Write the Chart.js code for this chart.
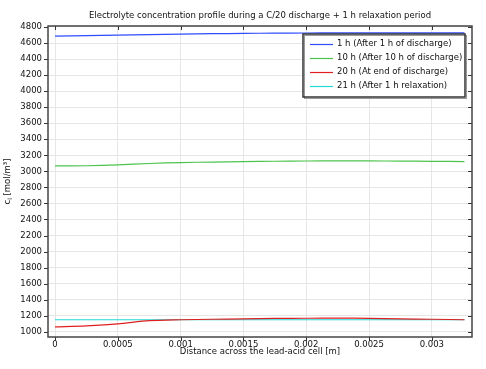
<!DOCTYPE html>
<html>
<head>
<meta charset="utf-8">
<script src="https://cdn.jsdelivr.net/npm/chart.js@4/dist/chart.umd.min.js"></script>
<style>
  html, body { margin: 0; padding: 0; background: #fff; }
  #wrap { width: 486px; height: 369px; }
</style>
</head>
<body>
<div id="wrap"><canvas id="chart" width="486" height="369"></canvas></div>
<script>
// Distance across the cell [m]
const xPos = [0, 0.00025, 0.0005, 0.00075, 0.001, 0.00125, 0.0015, 0.00175, 0.002, 0.00225, 0.0025, 0.00275, 0.003, 0.00326];

// Electrolyte concentration [mol/m^3]
const c1h  = [4685, 4692, 4699, 4705, 4711, 4716, 4720, 4723, 4725, 4726, 4727, 4727, 4727, 4727];
const c10h = [3068, 3070, 3080, 3098, 3110, 3116, 3122, 3126, 3129, 3130, 3130, 3128, 3125, 3122];
const c20h = [1060, 1074, 1098, 1138, 1150, 1156, 1161, 1166, 1169, 1170, 1168, 1162, 1156, 1150];
const c21h = [1150, 1150, 1150, 1150, 1150, 1150, 1150, 1150, 1150, 1150, 1150, 1150, 1150, 1150];

const seriesNames = ['1 h (After 1 h of discharge)', '10 h (After 10 h of discharge)', '20 h (At end of discharge)', '21 h (After 1 h relaxation)'];
const seriesColors = ['#2f4cff', '#4cc44c', '#e02020', '#20d8d8'];

const xTicks = [0, 0.0005, 0.001, 0.0015, 0.002, 0.0025, 0.003];
const yTicks = [1000, 1200, 1400, 1600, 1800, 2000, 2200, 2400, 2600, 2800, 3000, 3200, 3400, 3600, 3800, 4000, 4200, 4400, 4600, 4800];

const titleText = 'Electrolyte concentration profile during a C/20 discharge + 1 h relaxation period';
const xTitle = 'Distance across the lead-acid cell [m]';

const FONT = 'DejaVu Sans';
const FS = 8.5;

function pts(ys) {
  return xPos.map((x, i) => ({ x: x, y: ys[i] }));
}

// frame, tick marks, titles and boxed legend
const framePlugin = {
  id: 'frame',
  afterDatasetsDraw(chart) {
    const { ctx, chartArea: a, scales } = chart;
    ctx.save();
    ctx.strokeStyle = '#333';
    ctx.lineWidth = 1;
    ctx.beginPath();
    xTicks.forEach(v => {
      const px = Math.round(scales.x.getPixelForValue(v)) + 0.5;
      ctx.moveTo(px, a.bottom); ctx.lineTo(px, a.bottom + 4);
      ctx.moveTo(px, a.top); ctx.lineTo(px, a.top + 4);
    });
    yTicks.forEach(v => {
      const py = Math.round(scales.y.getPixelForValue(v)) + 0.5;
      ctx.moveTo(a.left - 4, py); ctx.lineTo(a.left, py);
      ctx.moveTo(a.right - 4, py); ctx.lineTo(a.right, py);
    });
    ctx.stroke();
    ctx.lineWidth = 1.5;
    ctx.strokeStyle = '#444';
    ctx.strokeRect(a.left, a.top, a.right - a.left, a.bottom - a.top);

    // titles
    ctx.fillStyle = '#111';
    ctx.font = FS + 'px ' + FONT;
    ctx.textAlign = 'center';
    ctx.textBaseline = 'middle';
    const cx = (a.left + a.right) / 2;
    ctx.fillText(titleText, cx, 16);
    ctx.fillText(xTitle, cx, 352);

    // y title with subscript
    ctx.save();
    ctx.translate(8, (a.top + a.bottom) / 2);
    ctx.rotate(-Math.PI / 2);
    ctx.textAlign = 'left';
    const rest = ' [mol/m³]';
    const wc = ctx.measureText('c').width;
    ctx.font = '6px ' + FONT;
    const wl = ctx.measureText('l').width;
    ctx.font = FS + 'px ' + FONT;
    const wr = ctx.measureText(rest).width;
    let sx = -(wc + wl + wr) / 2;
    ctx.fillText('c', sx, 0);
    ctx.font = '6px ' + FONT;
    ctx.fillText('l', sx + wc, 2.5);
    ctx.font = FS + 'px ' + FONT;
    ctx.fillText(rest, sx + wc + wl, 0);
    ctx.restore();

    // legend box
    const lx = 303, ly = 34, lw = 162, lh = 63;
    ctx.fillStyle = '#fff';
    ctx.fillRect(lx, ly, lw, lh);
    ctx.strokeStyle = '#999';
    ctx.lineWidth = 1;
    ctx.strokeRect(lx + 1.5, ly + 1.5, lw, lh);
    ctx.strokeStyle = '#333';
    ctx.lineWidth = 1.5;
    ctx.strokeRect(lx, ly, lw, lh);
    ctx.font = FS + 'px ' + FONT;
    ctx.textAlign = 'left';
    ctx.textBaseline = 'middle';
    seriesNames.forEach((name, i) => {
      const y = ly + 10 + i * 14;
      ctx.strokeStyle = seriesColors[i];
      ctx.lineWidth = 1.2;
      ctx.beginPath();
      ctx.moveTo(lx + 7, y + 0.5); ctx.lineTo(lx + 30, y + 0.5);
      ctx.stroke();
      ctx.fillStyle = '#111';
      ctx.fillText(name, lx + 34, y);
    });
    ctx.restore();
  }
};

new Chart(document.getElementById('chart'), {
  type: 'scatter',
  data: {
    datasets: [c1h, c10h, c20h, c21h].map((ys, i) => ({
      label: seriesNames[i],
      data: pts(ys),
      showLine: true,
      borderColor: seriesColors[i],
      backgroundColor: seriesColors[i],
      borderWidth: 1.2,
      pointRadius: 0,
      tension: 0.3
    }))
  },
  options: {
    responsive: false,
    animation: false,
    layout: { padding: { left: 0, right: 14, top: 26, bottom: 0 } },
    plugins: {
      legend: { display: false },
      tooltip: { enabled: false },
      title: { display: false }
    },
    scales: {
      x: {
        type: 'linear',
        min: -0.000056,
        max: 0.00332,
        afterBuildTicks: s => { s.ticks = xTicks.map(v => ({ value: v })); },
        afterFit: s => { s.height = 32; },
        grid: { color: '#e6e6e6', drawTicks: false },
        border: { display: false },
        ticks: {
          color: '#111',
          padding: 3,
          font: { family: FONT, size: FS },
          callback: v => String(v)
        }
      },
      y: {
        min: 935,
        max: 4812,
        afterBuildTicks: s => { s.ticks = yTicks.map(v => ({ value: v })); },
        afterFit: s => { s.width = 48; },
        grid: { color: '#e6e6e6', drawTicks: false },
        border: { display: false },
        ticks: {
          color: '#111',
          padding: 6,
          font: { family: FONT, size: FS },
          callback: v => String(v)
        }
      }
    }
  },
  plugins: [framePlugin]
});
</script>
</body>
</html>
